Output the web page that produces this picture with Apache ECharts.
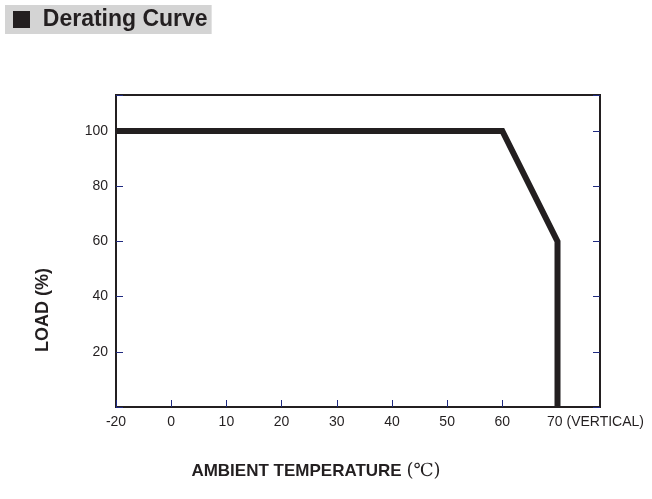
<!DOCTYPE html>
<html>
<head>
<meta charset="utf-8">
<script src="https://cdn.jsdelivr.net/npm/echarts@6/dist/echarts.min.js"></script>
<style>
  html, body { margin: 0; padding: 0; background: #fff; }
  #chart { width: 652px; height: 499px; }
</style>
</head>
<body>
<div id="chart"></div>
<script>
// derating curve: temperature (C) vs load (%)
// the printed x axis is broken: -20 sits one step left of 0, so x is drawn by tick slot
var xTicks = [-20, 0, 10, 20, 30, 40, 50, 60, 70];
var yTicks = [20, 40, 60, 80, 100];
var temps = [-20, 60, 70, 70];
var loads = [100, 100, 60, 0];

var narrow = "'Liberation Sans Narrow', 'Liberation Sans', Arial, sans-serif";
var ink = '#231f20';
var tickBlue = '#1f2a80';

var points = [];
for (var i = 0; i < temps.length; i++) {
    points.push([xTicks.indexOf(temps[i]), loads[i]]);
}

var myChart = echarts.init(document.getElementById('chart'));
var option = {
    backgroundColor: '#fff',
    animation: false,
    title: {
        text: '{sq|}  Derating Curve',
        left: 5,
        top: 5,
        padding: [3, 4, 3, 8],
        backgroundColor: '#d4d4d4',
        textStyle: {
            fontFamily: narrow,
            fontWeight: 'bold',
            fontSize: 23,
            color: ink,
            rich: {
                sq: { width: 17, height: 17, backgroundColor: ink }
            }
        }
    },
    grid: {
        left: 116,
        right: 52,
        top: 95,
        bottom: 92,
        show: true,
        borderColor: ink,
        borderWidth: 2
    },
    xAxis: {
        type: 'value',
        min: 0,
        max: 8.77,
        interval: 1,
        name: 'AMBIENT TEMPERATURE {c|(℃)}',
        nameLocation: 'middle',
        nameGap: 55,
        nameTextStyle: {
            fontFamily: narrow,
            fontWeight: 'bold',
            fontSize: 17,
            color: ink,
            padding: [0, 84, 0, 0],
            rich: {
                c: { fontFamily: "'DejaVu Serif', serif", fontWeight: 'normal', fontSize: 18, color: ink }
            }
        },
        splitLine: { show: false },
        axisLine: { show: true, onZero: false, lineStyle: { color: ink, width: 2 } },
        axisTick: {
            show: true,
            inside: true,
            length: 7,
            lineStyle: { color: tickBlue, width: 1 }
        },
        axisLabel: {
            margin: 8,
            fontFamily: narrow,
            fontSize: 14,
            color: ink,
            showMaxLabel: false,
            formatter: function (v) {
                var t = xTicks[v];
                if (t === undefined) return '';
                if (t === 70) return '{v|70 (VERTICAL)}';
                return String(t);
            },
            rich: {
                v: { fontFamily: narrow, fontSize: 14, color: ink, padding: [0, 0, 0, 76] }
            }
        }
    },
    yAxis: [{
        type: 'value',
        min: 0,
        max: 113,
        interval: 20,
        position: 'left',
        name: 'LOAD (%)',
        nameLocation: 'middle',
        nameGap: 64,
        nameTextStyle: {
            fontFamily: narrow,
            fontWeight: 'bold',
            fontSize: 18,
            color: ink,
            padding: [0, 118, 0, 0]
        },
        splitLine: { show: false },
        axisLine: { show: true, onZero: false, lineStyle: { color: ink, width: 2 } },
        axisTick: {
            show: true,
            inside: true,
            length: 7,
            lineStyle: { color: tickBlue, width: 1 }
        },
        axisLabel: {
            margin: 8,
            fontFamily: narrow,
            fontSize: 14,
            color: ink,
            formatter: function (v) {
                return yTicks.indexOf(v) < 0 ? '' : String(v);
            }
        }
    }, {
        type: 'value',
        min: 0,
        max: 113,
        interval: 20,
        position: 'right',
        splitLine: { show: false },
        axisLine: { show: true, onZero: false, lineStyle: { color: ink, width: 2 } },
        axisTick: {
            show: true,
            inside: true,
            length: 7,
            lineStyle: { color: tickBlue, width: 1 }
        },
        axisLabel: { show: false }
    }],
    series: [{
        type: 'line',
        data: points,
        symbol: 'none',
        lineStyle: { color: ink, width: 6, cap: 'butt', join: 'miter' },
        z: 5
    }]
};
myChart.setOption(option);
</script>
</body>
</html>
